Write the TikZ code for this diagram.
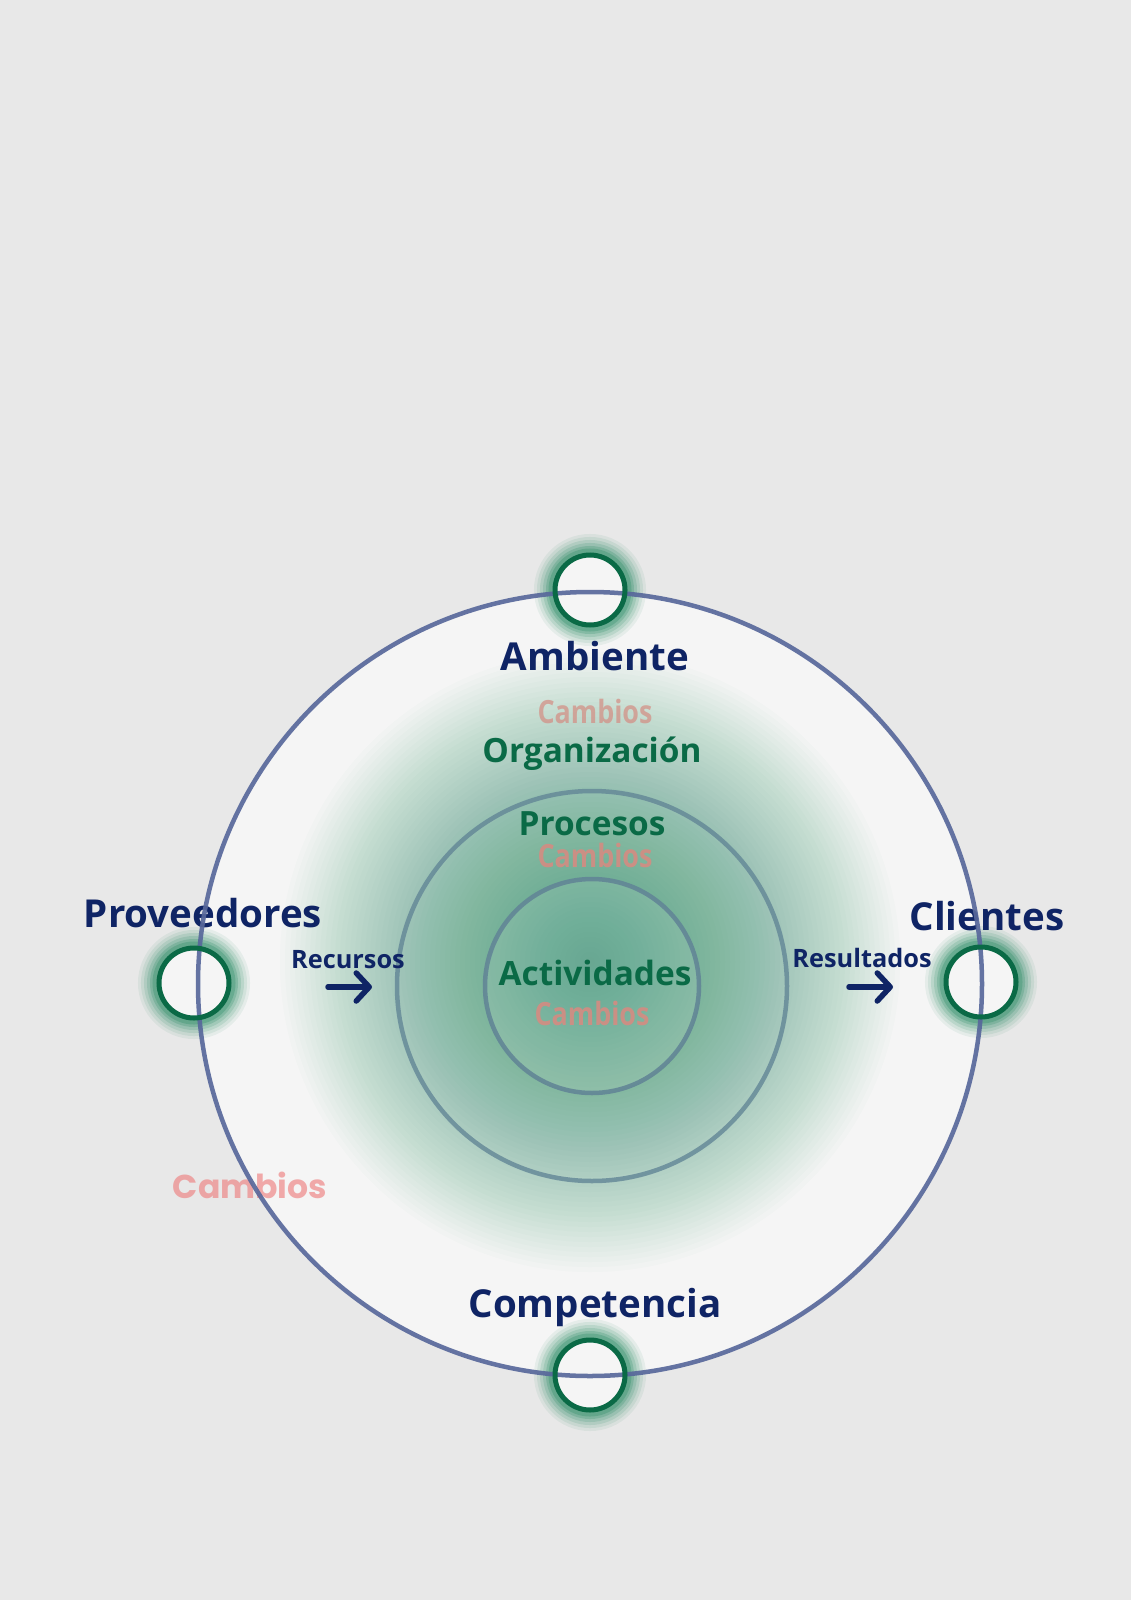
\documentclass[tikz,border=0pt]{standalone}
\usepackage{fontspec}
\setmainfont{Open Sans}
\newfontfamily\estrecha[FakeStretch=0.84]{Open Sans}
\newfontfamily\redonda{Poppins}
\usetikzlibrary{arrows.meta}

\definecolor{fondo}{RGB}{232,232,232}
\definecolor{blanco}{RGB}{245,245,245}
\definecolor{azul}{RGB}{15,36,101}
\definecolor{verde}{RGB}{10,106,70}
\definecolor{brillo}{RGB}{20,128,86}
\definecolor{halo}{RGB}{45,145,108}
\definecolor{borde}{RGB}{88,104,155}
\definecolor{gris}{RGB}{98,134,150}
\definecolor{rosa}{RGB}{212,140,130}
\definecolor{rosaclaro}{RGB}{238,128,128}

\tikzset{
  entorno/.style={font=\fontsize{10.95}{13}\selectfont\bfseries, text=azul, anchor=base, inner sep=0pt},
  nivel/.style={font=\fontsize{9.5}{12}\selectfont\bfseries, text=verde, anchor=base, inner sep=0pt},
  cambio/.style={font=\estrecha\fontsize{9.1}{11}\selectfont\bfseries, text=rosa, text opacity=0.9, anchor=base, inner sep=0pt},
  flujo/.style={font=\fontsize{7.2}{9}\selectfont\bfseries, text=azul, anchor=base, inner sep=0pt},
  flecha/.style={azul, line width=0.055cm, line cap=round, -{Straight Barb[length=0.13cm, width=0.28cm, round]}},
  anillo/.style={verde, line width=0.05cm}
}

\begin{document}
\begin{tikzpicture}[x=0.01cm, y=-0.01cm]

    \fill[fondo] (0,0) rectangle (1131,1600);
    \useasboundingbox (0,0) rectangle (1131,1600);

    \coordinate (centro) at (590,984);
    \coordinate (nucleo) at (592,986);
    \coordinate (foco)   at (590,962);
    \coordinate (arriba) at (590,590);
    \coordinate (izq)    at (194,983);
    \coordinate (der)    at (981,982);
    \coordinate (abajo)  at (590,1375);

    \fill[blanco] (centro) circle (392);                 % interior del ambiente

    % halo verde
    \foreach \r in {310,305,...,5}
        \fill[halo, fill opacity=0.0200] (foco) circle (\r);
    \fill[white, fill opacity=0.10] (nucleo) circle (107);

    \draw[gris, line width=0.045cm, draw opacity=0.8] (nucleo) circle (195); % procesos
    \draw[gris, line width=0.045cm, draw opacity=0.9] (nucleo) circle (107); % actividades

    % brillo de los puntos
    \foreach \p in {arriba, izq, der, abajo} {
        \foreach \w/\o in {0.40/0.07, 0.34/0.09, 0.28/0.12, 0.22/0.15, 0.16/0.20, 0.11/0.25}
            \draw[brillo, line width=\w cm, draw opacity=\o] (\p) circle (36);
        \fill[blanco] (\p) circle (35);
    }

    \node (amb)  [entorno] at (595,670)  {Ambiente};
    \node (cam1) [cambio, text opacity=0.7] at (595,723) {Cambios};
    \node (org)  [nivel]   at (592,762)  {Organización};
    \node (pro)  [nivel]   at (592,835)  {Procesos};
    \node (cam2) [cambio]  at (595,867)  {Cambios};
    \node (act)  [nivel]   at (595,985)  {Actividades};
    \node (cam3) [cambio]  at (592,1025) {Cambios};

    \node (prov) [entorno] at (203,927)  {Proveedores};
    \node (rec)  [flujo]   at (348,968)  {Recursos};
    \node (cli)  [entorno] at (987,930)  {Clientes};
    \node (res)  [flujo]   at (862,967)  {Resultados};
    \node (comp) [entorno] at (595,1317) {Competencia};

    \node (cam4) [anchor=base, inner sep=0pt, text=rosaclaro, text opacity=0.65,
                  font=\redonda\fontsize{9.4}{11}\selectfont\bfseries] at (250,1198) {Cambios};

    \draw[borde, line width=0.045cm, draw opacity=0.92] (centro) circle (392); % ambiente

    \foreach \p in {arriba, izq, der, abajo}
        \draw[anillo] (\p) circle (35);

    \coordinate (r1) at (328,987);
    \coordinate (r2) at (372,987);
    \coordinate (s1) at (849,987);
    \coordinate (s2) at (893,987);
    \draw[flecha] (r1) -- (r2);
    \draw[flecha] (s1) -- (s2);

\end{tikzpicture}
\end{document}
